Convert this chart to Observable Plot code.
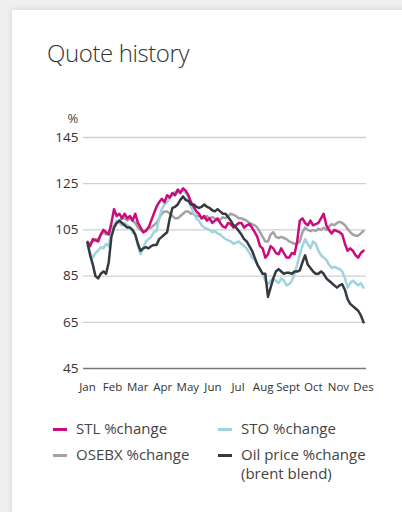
<!DOCTYPE html>
<html>
<head>
<meta charset="utf-8">
<script src="https://cdn.jsdelivr.net/npm/d3@7"></script>
<script src="https://cdn.jsdelivr.net/npm/@observablehq/plot@0.6"></script>
<style>
  html, body { margin: 0; padding: 0; width: 402px; height: 512px; overflow: hidden; background: #efefef; font-family: "Open Sans", sans-serif; }
  #card { position: absolute; left: 12px; top: 10px; width: 400px; height: 510px; background: #fff; box-shadow: 0 0 6px rgba(0,0,0,0.12); }
  #title { position: absolute; left: 47px; top: 36px; margin: 0; font-size: 24px; font-weight: 300; color: #333; letter-spacing: -0.4px; }
  #chart { position: absolute; left: 0; top: 100px; }
  #legend { position: absolute; left: 0; top: 0; width: 402px; height: 512px; pointer-events: none; }
  .item { position: absolute; font-size: 15px; color: #444; line-height: 17px; white-space: nowrap; }
  .sw { position: absolute; width: 14px; height: 3px; }
</style>
</head>
<body>
<div id="card"></div>
<h2 id="title">Quote history</h2>
<div id="chart"></div>
<div id="legend"></div>
<script>
// half-week sampling: week 0 .. 52
const weeks = d3.range(0, 52.5, 0.5);
const monthLabels = ["Jan","Feb","Mar","Apr","May","Jun","Jul","Aug","Sept","Oct","Nov","Des"];
const yTicks = [45, 65, 85, 105, 125, 145];

const stl = [99.5,98, 101,100.5, 100,103, 105,104, 103,108, 114,111, 112,110, 112,110, 111,109, 112,108, 106,104, 104.5,106, 109,112, 115,117, 118.5,117, 120,119, 121,120, 122.5,121, 123,122, 120,117, 115,113, 112,110, 111,109, 110,108, 109,110, 108,106.5, 106,108, 107.5,106, 107,108, 108,106, 107,107.5, 106,104, 102,98, 97,93, 94.5,98, 97,95, 94.5,97, 95,93, 93,95, 94.5,100, 109,110, 108,107, 109,107, 107.5,108, 110,112, 107,105, 103.5,105, 104.5,104, 103,99, 96,97, 96,94, 93,95, 96];
const sto = [98,95, 93,95, 96,97.5, 97,99, 98,104, 107,109, 108,107, 108,107, 106,104, 103,98, 94.5,97, 100,101, 102,104, 104.5,110, 114,116, 117,119, 120,121.5, 121,122, 122,121, 119,115, 112,110, 109,107, 106,105.5, 105,104, 104.5,103.5, 103,102, 101,100.5, 100,99, 99.5,100, 99,98, 97,95, 93,92, 90,88, 86,83, 81.5,83, 84,83, 82,84, 83,81, 81.5,83, 86,90, 94.5,98, 101,99, 97,100, 99,96, 94,93, 92,90, 88.5,89, 88.5,88, 87,84, 80,82, 83,82, 81,82, 80];
const osebx = [100,99, 100,101, 101,103, 104,103, 104,106, 107,108, 109,110, 110,109, 110,109, 108,106, 105,104, 105,106, 106,107, 108,110, 112,113, 113,112, 111,110, 110,111, 112,113, 113,112, 112,111, 111,110, 110,111, 110,110.5, 110,109, 109.5,110.5, 110,111, 112,111.5, 111,110, 110,109.5, 109,108, 107.5,107, 106,104, 102,100, 100,103, 104,102, 101.5,102, 101.5,101, 100,99.5, 99,99, 100,104, 106,105, 104.5,105, 104.5,105.5, 105,106, 105,106.5, 107.5,107, 108,108.5, 108,107, 105.5,104, 103,102.5, 102.5,103.5, 104.5];
const oil = [99.5,94, 90,85, 84,86, 87,86, 91,102, 106,108, 109,108, 107,106, 106,105, 103,99, 96,97, 97.5,97, 98,98.5, 98.5,101, 102,103, 104,110, 114.5,115, 116,118, 119.5,118, 117.5,116, 116,115, 114.5,115, 116,115, 114.5,113.5, 113,114, 113,112, 112,110.5, 109,107, 106,104.5, 103,101, 100,98, 96,93, 90,88, 86,86, 76,80, 84,87, 88,87, 86,86.5, 86.5,86, 87,87, 87.5,91, 94,90, 88.5,87, 86,86, 87,86, 84,83, 82,81, 80,81, 81.5,79, 75,73, 72,71, 70,68, 65];

const seriesNames = ["OSEBX %change", "STO %change", "STL %change", "Oil price %change"];
const seriesColors = ["#a3a3a3", "#9fd3df", "#cc0a7e", "#343a40"];
const seriesValues = [osebx, sto, stl, oil];

const rows = [];
seriesNames.forEach((name, s) => {
  const vals = seriesValues[s];
  const n = Math.min(vals.length, weeks.length);
  for (let i = 0; i < n; i++) rows.push({series: name, week: weeks[i], value: vals[i]});
});

const monthTicks = monthLabels.map((m, i) => i * 52 / 11);

const plot = Plot.plot({
  width: 402,
  height: 300,
  marginLeft: 87,
  marginRight: 39,
  marginTop: 37,
  marginBottom: 32,
  style: {fontFamily: "Open Sans, sans-serif", color: "#333", background: "transparent"},
  x: {domain: [0, 52]},
  y: {domain: [45, 145]},
  color: {domain: seriesNames, range: seriesColors},
  marks: [
    Plot.ruleY(yTicks.filter(d => d !== 45), {stroke: "#cfcfcf", strokeWidth: 1.3, insetLeft: -4, insetRight: -3}),
    Plot.ruleY([45], {stroke: "#777", strokeWidth: 1.3, insetLeft: -4, insetRight: -3}),
    Plot.axisY(yTicks, {tickSize: 0, tickPadding: 9, fontSize: 13.5, label: null}),
    Plot.axisX(monthTicks, {tickSize: 0, tickPadding: 14, fontSize: 11.5, label: null, tickFormat: d => monthLabels[Math.round(d * 11 / 52)]}),
    Plot.text(["%"], {frameAnchor: "top-left", dx: -20, dy: -24, fontSize: 13, fill: "#444"}),
    Plot.line(rows, {x: "week", y: "value", z: "series", stroke: "series", strokeWidth: 2.5, strokeLinejoin: "round"})
  ]
});
document.getElementById("chart").appendChild(plot);

const legendItems = [
  {lines: ["STL %change"], color: "#cc0a7e", x: 53, y: 429},
  {lines: ["STO %change"], color: "#9fd3df", x: 218, y: 429},
  {lines: ["OSEBX %change"], color: "#a3a3a3", x: 53, y: 455},
  {lines: ["Oil price %change", "(brent blend)"], color: "#343a40", x: 218, y: 455}
];
const leg = document.getElementById("legend");
legendItems.forEach(it => {
  const sw = document.createElement("div");
  sw.className = "sw";
  sw.style.left = it.x + "px";
  sw.style.top = (it.y - 1) + "px";
  sw.style.background = it.color;
  leg.appendChild(sw);
  it.lines.forEach((line, j) => {
    const t = document.createElement("div");
    t.className = "item";
    t.style.left = (it.x + 23) + "px";
    t.style.top = (it.y - 9 + j * 19) + "px";
    t.textContent = line;
    leg.appendChild(t);
  });
});
</script>
</body>
</html>
